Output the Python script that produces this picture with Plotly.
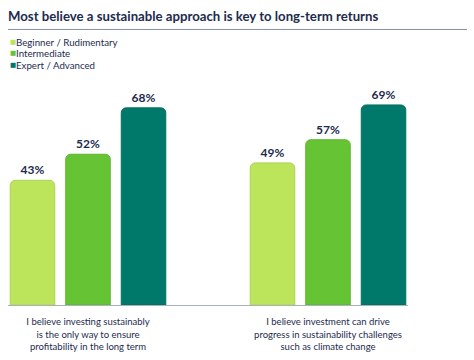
import plotly.graph_objects as go

categories = [
    "I believe investing sustainably<br>is the only way to ensure<br>profitability in the long term",
    "I believe investment can drive<br>progress in sustainability challenges<br>such as climate change",
]
series_names = ["Beginner / Rudimentary", "Intermediate", "Expert / Advanced"]
beginner = [43, 49]
intermediate = [52, 57]
expert = [68, 69]
series_values = [beginner, intermediate, expert]
colors = ["#bde55c", "#66c434", "#00796b"]
outlines = ["#a9d352", "#5db630", "#00705f"]
title_text = "Most believe a sustainable approach is key to long-term returns"
navy = "#1d2b4f"

fig = go.Figure()
for name, vals, c, oc in zip(series_names, series_values, colors, outlines):
    fig.add_trace(go.Bar(
        name=name, x=[0, 1], y=vals,
        marker=dict(color=c, line=dict(color=oc, width=1)),
        text=[f"{v}%" for v in vals], textposition="outside",
        textfont=dict(family="Lato", size=12, color=navy, weight="bold"),
        cliponaxis=False, showlegend=False, hoverinfo="skip",
    ))

fig.update_layout(
    width=474, height=360,
    margin=dict(l=8, r=66, t=80, b=44),
    paper_bgcolor="white", plot_bgcolor="white",
    barmode="group", bargap=0.306, bargroupgap=0.198, barcornerradius=5,
    font=dict(family="Lato", color=navy),
    xaxis=dict(
        range=[-1/3, 4/3], tickvals=[0, 1], ticktext=categories,
        showgrid=False, zeroline=False, showline=True, linecolor="#a7b0bb", linewidth=1,
        ticks="", tickfont=dict(family="Lato", size=9.5, color=navy),
        ticklabelstandoff=8, fixedrange=True,
    ),
    yaxis=dict(range=[0, 77.6], visible=False, showgrid=False, fixedrange=True),
)

# title and rule
fig.add_annotation(xref="paper", yref="paper", x=(6 - 8) / 400, y=1 + (80 - 13) / 236,
                   xanchor="left", yanchor="middle", showarrow=False,
                   text=f"<b>{title_text}</b>",
                   font=dict(family="Lato", size=13.2, color=navy))
fig.add_shape(type="line", xref="paper", yref="paper",
              x0=0, x1=(467 - 8) / 400, y0=1 + (80 - 27) / 236, y1=1 + (80 - 27) / 236,
              line=dict(color="#8593a6", width=1))

# legend
for i, (name, c) in enumerate(zip(series_names, colors)):
    ypx = 40 + 12 * i
    yp = 1 + (80 - ypx) / 236
    fig.add_annotation(xref="paper", yref="paper", x=(8 - 8) / 400, y=yp,
                       xanchor="left", yanchor="middle", showarrow=False,
                       text="■", font=dict(family="DejaVu Sans", size=6.5, color=c))
    fig.add_annotation(xref="paper", yref="paper", x=(14 - 8) / 400, y=yp,
                       xanchor="left", yanchor="middle", showarrow=False,
                       text=name, font=dict(family="Lato", size=9.7, color=navy))

fig.write_html("out.html", config={"displayModeBar": False},
               post_script="document.body.style.margin='0';")
